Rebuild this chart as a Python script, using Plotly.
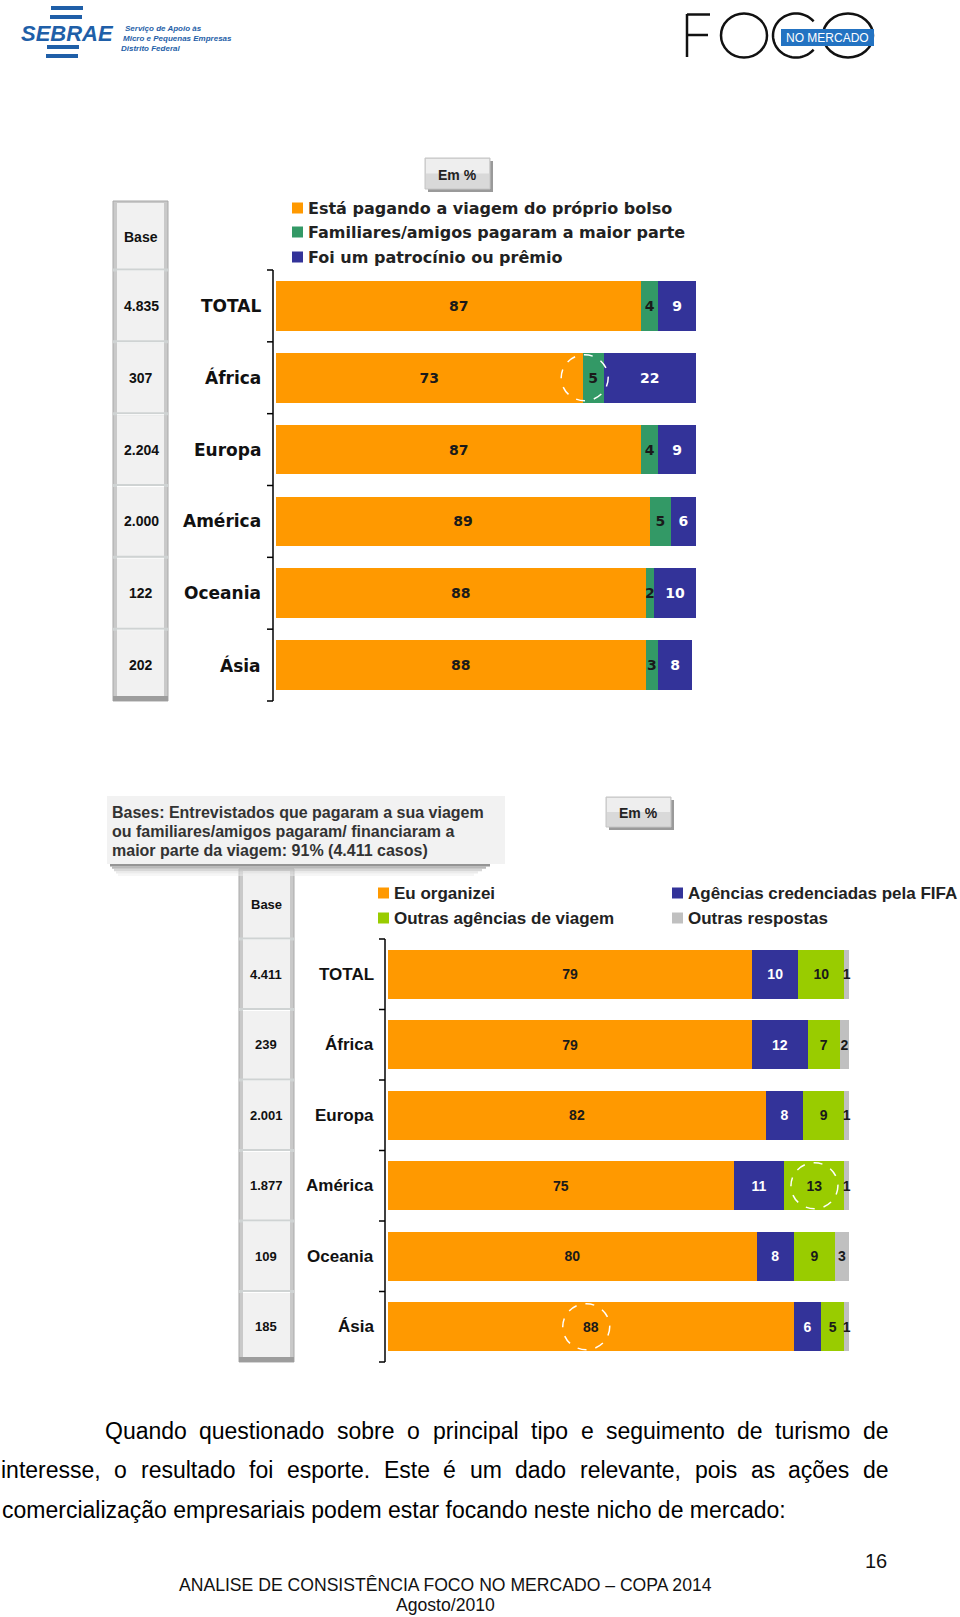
import math
import plotly.graph_objects as go

# ---------------- data ----------------
regions = ["TOTAL", "África", "Europa", "América", "Oceania", "Ásia"]

# Chart 1 – quem pagou a viagem
bases1 = ["4.835", "307", "2.204", "2.000", "122", "202"]
proprio_bolso = [87, 73, 87, 89, 88, 88]
familiares = [4, 5, 4, 5, 2, 3]
patrocinio = [9, 22, 9, 6, 10, 8]
names1 = ["Está pagando a viagem do próprio bolso",
          "Familiares/amigos pagaram a maior parte",
          "Foi um patrocínio ou prêmio"]

# Chart 2 – quem organizou a viagem
bases2 = ["4.411", "239", "2.001", "1.877", "109", "185"]
eu_organizei = [79, 79, 82, 75, 80, 88]
agencias_fifa = [10, 12, 8, 11, 8, 6]
outras_agencias = [10, 7, 9, 13, 9, 5]
outras_respostas = [1, 2, 1, 1, 3, 1]
names2 = ["Eu organizei", "Agências credenciadas pela FIFA",
          "Outras agências de viagem", "Outras respostas"]

paragraph = [
    "Quando questionado sobre o principal tipo e seguimento de turismo de",
    "interesse, o resultado foi esporte. Este é um dado relevante, pois as ações de",
    "comercialização empresariais podem estar focando neste nicho de mercado:",
]
footer1 = "ANALISE DE CONSISTÊNCIA FOCO NO MERCADO – COPA 2014"
footer2 = "Agosto/2010"
page_no = "16"

# ---------------- styling ----------------
W, H = 960, 1617
ORANGE = "#FF9900"
GREEN1 = "#339966"
BLUE = "#333399"
GREEN2 = "#99CC00"
GRAY = "#C0C0C0"
SEB_BLUE = "#1F5FA8"

VERD = "DejaVu Sans, Verdana, sans-serif"
ARIAL = "Liberation Sans, Arial, sans-serif"
NARROW = "Liberation Sans Narrow, Arial Narrow, Liberation Sans, sans-serif"


def px(x):
    return x / W


def py(y):
    return 1 - y / H


shapes = []
ann = []


def rect(x0, y0, x1, y1, fill, line=None, lw=0, opacity=1.0, layer="above"):
    shapes.append(dict(type="rect", xref="paper", yref="paper",
                       x0=px(x0), x1=px(x1), y0=py(y1), y1=py(y0),
                       fillcolor=fill, opacity=opacity, layer=layer,
                       line=dict(color=line or fill, width=lw)))


def line(x0, y0, x1, y1, color, width):
    shapes.append(dict(type="line", xref="paper", yref="paper",
                       x0=px(x0), x1=px(x1), y0=py(y0), y1=py(y1),
                       line=dict(color=color, width=width)))


def text(t, x, y, size, family=ARIAL, color="#000", anchor="left", bold=False,
         italic=False, yanchor="middle"):
    ann.append(dict(text=t, x=px(x), y=py(y), xref="paper", yref="paper",
                    xanchor=anchor, yanchor=yanchor, showarrow=False,
                    font=dict(size=size, family=family, color=color,
                              weight="bold" if bold else "normal",
                              style="italic" if italic else "normal")))


fig = go.Figure()

# ---------------- chart 1 bars ----------------
for vals, name, col, tcol in [(proprio_bolso, names1[0], ORANGE, "#1a1a1a"),
                              (familiares, names1[1], GREEN1, "#1a1a1a"),
                              (patrocinio, names1[2], BLUE, "#ffffff")]:
    fig.add_trace(go.Bar(
        y=regions, x=vals, orientation="h", name=name, marker_color=col,
        marker_line_width=0, text=[str(v) for v in vals], textposition="inside",
        insidetextanchor="middle", constraintext="none", cliponaxis=False,
        textfont=dict(family=VERD, size=14, color=tcol, weight="bold"),
        xaxis="x", yaxis="y", hoverinfo="skip"))

# ---------------- chart 2 bars ----------------
for vals, name, col, tcol in [(eu_organizei, names2[0], ORANGE, "#1a1a1a"),
                              (agencias_fifa, names2[1], BLUE, "#ffffff"),
                              (outras_agencias, names2[2], GREEN2, "#1a1a1a"),
                              (outras_respostas, names2[3], GRAY, "#1a1a1a")]:
    fig.add_trace(go.Bar(
        y=regions, x=vals, orientation="h", name=name, marker_color=col,
        marker_line_width=0, text=[str(v) for v in vals], textposition="inside",
        insidetextanchor="middle", constraintext="none", cliponaxis=False,
        textfont=dict(family=ARIAL, size=14, color=tcol, weight="bold"),
        xaxis="x2", yaxis="y2", hoverinfo="skip"))

# geometry of the two plot areas (pixels)
C1 = dict(left=276, right=696, top=270, bottom=701, axis=273,
          base_x0=113, base_x1=168, base_top=201, base_cx=141, label_r=263)
C2 = dict(left=388, right=849, top=939, bottom=1362, axis=385,
          base_x0=239, base_x1=294, base_top=869, base_cx=266, label_r=376)

n = len(regions)

# ---------------- axis lines with boundary ticks ----------------
for C in (C1, C2):
    line(C["axis"], C["top"], C["axis"], C["bottom"], "#000", 1.5)
    step = (C["bottom"] - C["top"]) / n
    for k in range(n + 1):
        yy = C["top"] + k * step
        line(C["axis"] - 6, yy, C["axis"], yy, "#000", 1.5)

# ---------------- base columns ----------------
for C in (C1, C2):
    x0, x1, top, bot = C["base_x0"], C["base_x1"], C["base_top"], C["bottom"]
    rect(x0, top, x1, bot, "#c9c9c9", "#a9a9a9", 1)
    rect(x0 + 4, top + 2, x1 - 4, bot - 5, "#f1f1f1")
    rect(x0, bot - 5, x1, bot, "#9d9d9d")
    step = (C["bottom"] - C["top"]) / n
    for k in range(n):
        yy = C["top"] + k * step
        line(x0, yy, x1, yy, "#cfd3d3", 3)
        line(x0 + 4, yy + 1, x1 - 4, yy + 1, "#ffffff", 1)

text("Base", C1["base_cx"], 237, 14, NARROW, "#111", "center", bold=True)
text("Base", C2["base_cx"], 904, 13, NARROW, "#111", "center", bold=True)

for i, r in enumerate(regions):
    ann.append(dict(text=bases1[i], x=px(C1["base_cx"]), y=r, xref="paper", yref="y",
                    xanchor="center", yanchor="middle", showarrow=False,
                    font=dict(size=14, family=NARROW, color="#111", weight="bold")))
    ann.append(dict(text=r, x=px(C1["label_r"]), y=r, xref="paper", yref="y",
                    xanchor="right", yanchor="middle", showarrow=False,
                    font=dict(size=17, family=VERD, color="#111", weight="bold")))
    ann.append(dict(text=bases2[i], x=px(C2["base_cx"]), y=r, xref="paper", yref="y2",
                    xanchor="center", yanchor="middle", showarrow=False,
                    font=dict(size=13, family=NARROW, color="#111", weight="bold")))
    ann.append(dict(text=r, x=px(C2["label_r"]), y=r, xref="paper", yref="y2",
                    xanchor="right", yanchor="middle", showarrow=False,
                    font=dict(size=17, family=ARIAL, color="#111", weight="bold")))

# ---------------- "Em %" boxes ----------------
for (x0, y0, x1, y1) in [(425, 158, 490, 189), (606, 797, 671, 827)]:
    rect(x0 + 3, y0 + 3, x1 + 3, y1 + 3, "#9a9a9a")
    rect(x0, y0, x1, y1, "#d9d9d9", "#c4c4c4", 1)
    rect(x0 + 1, y0 + 1, x1 - 1, (y0 + y1) / 2, "#eeeeee")
    text("Em %", (x0 + x1) / 2, (y0 + y1) / 2 + 1, 14, ARIAL, "#222", "center", bold=True)

# ---------------- legends ----------------
for k, (nm, col) in enumerate(zip(names1, [ORANGE, GREEN1, BLUE])):
    yy = [208, 232, 257][k]
    rect(292, yy - 5.5, 303, yy + 5.5, col)
    text(nm, 306, yy, 16, VERD, "#222", bold=True)

leg2 = [(names2[0], ORANGE, 378, 893), (names2[2], GREEN2, 378, 918),
        (names2[1], BLUE, 672, 893), (names2[3], GRAY, 672, 918)]
for nm, col, x, yy in leg2:
    rect(x, yy - 5.5, x + 11, yy + 5.5, col)
    text(nm, x + 14, yy, 17, ARIAL, "#222", bold=True)

# ---------------- bases note box (chart 2) ----------------
for k, (c, op) in enumerate([("#8a8a8a", 0.9), ("#a8a8a8", 0.8), ("#c6c6c6", 0.7),
                             ("#dedede", 0.6), ("#eeeeee", 0.5)]):
    rect(110 + k * 2, 864 + k * 2.4, 490 - k * 4, 866.4 + k * 2.4, c, opacity=op)
rect(107, 796, 505, 864, "#f2f2f2")
for k, t in enumerate(["Bases: Entrevistados que pagaram a sua viagem",
                       "ou familiares/amigos pagaram/ financiaram a",
                       "maior parte da viagem: 91% (4.411 casos)"]):
    text(t, 110, 812 + k * 19.5, 16, ARIAL, "#333", bold=True)

# ---------------- dashed highlight circles ----------------
circles = [("x", "y", proprio_bolso[1] + 0.5, 1),
           ("x2", "y2", eu_organizei[3] + agencias_fifa[3] + outras_agencias[3] / 2, 3),
           ("x2", "y2", eu_organizei[5] / 2 - 1, 5)]
for xr, yr, cx, ci in circles:
    shapes.append(dict(type="circle", xref=xr, yref=yr, xsizemode="pixel",
                       ysizemode="pixel", xanchor=cx, yanchor=ci,
                       x0=-23.5, x1=23.5, y0=-23, y1=23,
                       line=dict(color="#ffffff", width=1.5, dash="dash")))

# ---------------- SEBRAE logo ----------------
for (x0, y0, x1, y1) in [(51, 6, 83, 10), (50, 15, 82, 19), (47, 45, 79, 49), (46, 54, 78, 58)]:
    rect(x0, y0, x1, y1, SEB_BLUE)
text("SEBRAE", 19, 33, 22, ARIAL, SEB_BLUE, bold=True, italic=True)
for k, t in enumerate(["Serviço de Apoio às", "Micro e Pequenas Empresas", "Distrito Federal"]):
    text(t, 121 + (2 if k == 0 else 0) - (2 if k == 2 else 0), 29 + k * 9.8, 8, ARIAL,
         SEB_BLUE, bold=True, italic=True)

# ---------------- FOCO logo ----------------
LK = "#111111"
line(687, 14, 687, 57, LK, 2.5)
line(687, 14.5, 710, 14.5, LK, 2.5)
line(687, 35, 708, 35, LK, 2.5)


def ellipse(cx, cy, rx, ry):
    shapes.append(dict(type="circle", xref="paper", yref="paper",
                       x0=px(cx - rx), x1=px(cx + rx), y0=py(cy + ry), y1=py(cy - ry),
                       line=dict(color=LK, width=2.5)))


ellipse(744, 35.5, 23, 22)
# C (open arc) drawn as a polyline
pts = []
for d in range(40, 321, 5):
    a = math.radians(d)
    pts.append((796 + 23 * math.cos(a), 35.5 - 22 * math.sin(a)))
path = "M " + " L ".join(f"{px(x):.5f},{py(y):.5f}" for x, y in pts)
shapes.append(dict(type="path", xref="paper", yref="paper", path=path,
                   line=dict(color=LK, width=2.5)))
ellipse(848, 35.5, 25, 22)
rect(781, 29, 874, 46, "#2373C2")
text("NO MERCADO", 827, 38, 12, ARIAL, "#ffffff", "center")

# ---------------- paragraph (justified) ----------------
AW = {" ": 278, "a": 556, "b": 556, "c": 500, "d": 556, "e": 556, "f": 278, "g": 556,
      "h": 556, "i": 222, "j": 222, "k": 500, "l": 222, "m": 833, "n": 556, "o": 556,
      "p": 556, "q": 556, "r": 333, "s": 500, "t": 278, "u": 556, "v": 500, "w": 722,
      "x": 500, "y": 500, "z": 500, ".": 278, ",": 278, ":": 278, "ç": 500, "ã": 556,
      "é": 556, "õ": 556, "Q": 778, "E": 667}
FS = 23


def tw(s):
    return sum(AW.get(c, 556) for c in s) * FS / 1000


def put_line(s, x0, x1, y, justify):
    words = s.split()
    if not justify:
        text(s, x0, y, FS, ARIAL, "#000")
        return
    widths = [tw(w) for w in words]
    gap = (x1 - x0 - sum(widths)) / (len(words) - 1)
    x = x0
    for w, wd in zip(words, widths):
        text(w, x - 1, y, FS, ARIAL, "#000")
        x += wd + gap


put_line(paragraph[0], 104, 888, 1431, True)
put_line(paragraph[1], 0, 888, 1470, True)
put_line(paragraph[2], 0, 888, 1510, False)

text(page_no, 876, 1561, 20, ARIAL, "#111", "center")
text(footer1, 445, 1585, 17.6, ARIAL, "#111", "center")
text(footer2, 445, 1605, 17.6, ARIAL, "#111", "center")

# ---------------- layout ----------------
fig.update_layout(
    width=W, height=H, margin=dict(l=0, r=0, t=0, b=0),
    paper_bgcolor="#ffffff", plot_bgcolor="rgba(0,0,0,0)",
    barmode="stack", bargap=0.31, showlegend=False,
    xaxis=dict(domain=[px(C1["left"]), px(C1["right"])], range=[0, 100], visible=False,
               anchor="y", fixedrange=True),
    yaxis=dict(domain=[py(C1["bottom"]), py(C1["top"])], autorange="reversed",
               visible=False, anchor="x", categoryorder="array", categoryarray=regions),
    xaxis2=dict(domain=[px(C2["left"]), px(C2["right"])], range=[0, 100], visible=False,
                anchor="y2", fixedrange=True),
    yaxis2=dict(domain=[py(C2["bottom"]), py(C2["top"])], autorange="reversed",
                visible=False, anchor="x2", categoryorder="array", categoryarray=regions),
    shapes=shapes, annotations=ann,
)

fig.write_html("out.html")
